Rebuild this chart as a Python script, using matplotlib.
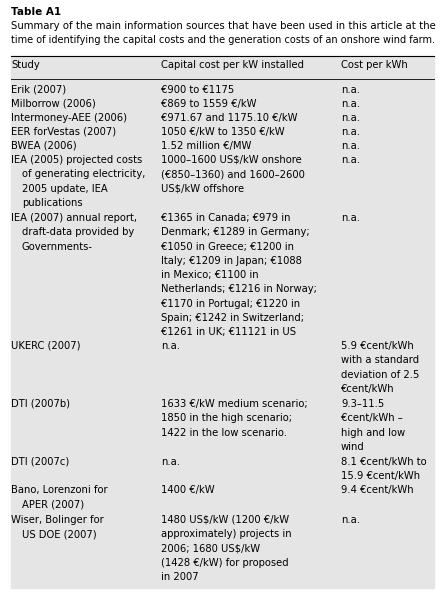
import matplotlib
matplotlib.use("Agg")
import matplotlib.pyplot as plt
from matplotlib.patches import Rectangle

title = "Table A1"
caption = ["Summary of the main information sources that have been used in this article at the",
           "time of identifying the capital costs and the generation costs of an onshore wind farm."]
headers = ["Study", "Capital cost per kW installed", "Cost per kWh"]
study = [
    ["Erik (2007)"], ["Milborrow (2006)"], ["Intermoney-AEE (2006)"], ["EER forVestas (2007)"],
    ["BWEA (2006)"],
    ["IEA (2005) projected costs", "of generating electricity,", "2005 update, IEA", "publications"],
    ["IEA (2007) annual report,", "draft-data provided by", "Governments-"],
    ["UKERC (2007)"], ["DTI (2007b)"], ["DTI (2007c)"],
    ["Bano, Lorenzoni for", "APER (2007)"], ["Wiser, Bolinger for", "US DOE (2007)"],
]
capital = [
    ["€900 to €1175"], ["€869 to 1559 €/kW"], ["€971.67 and 1175.10 €/kW"], ["1050 €/kW to 1350 €/kW"],
    ["1.52 million €/MW"],
    ["1000–1600 US$/kW onshore", "(€850–1360) and 1600–2600", "US$/kW offshore"],
    ["€1365 in Canada; €979 in", "Denmark; €1289 in Germany;", "€1050 in Greece; €1200 in",
     "Italy; €1209 in Japan; €1088", "in Mexico; €1100 in", "Netherlands; €1216 in Norway;",
     "€1170 in Portugal; €1220 in", "Spain; €1242 in Switzerland;", "€1261 in UK; €11121 in US"],
    ["n.a."],
    ["1633 €/kW medium scenario;", "1850 in the high scenario;", "1422 in the low scenario."],
    ["n.a."], ["1400 €/kW"],
    ["1480 US$/kW (1200 €/kW", "approximately) projects in", "2006; 1680 US$/kW",
     "(1428 €/kW) for proposed", "in 2007"],
]
kwh = [
    ["n.a."], ["n.a."], ["n.a."], ["n.a."], ["n.a."], ["n.a."], ["n.a."],
    ["5.9 €cent/kWh", "with a standard", "deviation of 2.5", "€cent/kWh"],
    ["9.3–11.5", "€cent/kWh –", "high and low", "wind"],
    ["8.1 €cent/kWh to", "15.9 €cent/kWh"], ["9.4 €cent/kWh"], ["n.a."],
]
row_y = [91, 105, 119, 133, 147, 161, 219, 347, 405, 463, 491, 521]

fig = plt.figure(figsize=(4.45, 5.95), dpi=100)
ax = fig.add_axes([0, 0, 1, 1])
ax.set_xlim(0, 445); ax.set_ylim(595, 0); ax.axis("off")
ax.add_patch(Rectangle((11, 56), 423, 532, color="#e5e5e5", zorder=0))
ax.plot([11, 434], [56, 56], color="black", lw=0.8)
ax.plot([11, 434], [79, 79], color="black", lw=0.6)
fs = 7.2
ax.text(11, 7, title, fontsize=7.5, fontweight="bold", va="top")
ax.text(11, 21, caption[0], fontsize=7.25, va="top")
ax.text(11, 35, caption[1], fontsize=7.05, va="top")
for x, h in zip([11, 161, 341], headers):
    ax.text(x, 60, h, fontsize=fs, va="top")
LH = 14.3
for y, s, c, k in zip(row_y, study, capital, kwh):
    for j, t in enumerate(s):
        ax.text(11 if j == 0 else 22, y - 6 + j * LH, t, fontsize=fs, va="top")
    for j, t in enumerate(c):
        ax.text(161, y - 6 + j * LH, t, fontsize=fs, va="top")
    for j, t in enumerate(k):
        ax.text(341, y - 6 + j * LH, t, fontsize=fs, va="top")
fig.savefig("out.png", dpi=100)
